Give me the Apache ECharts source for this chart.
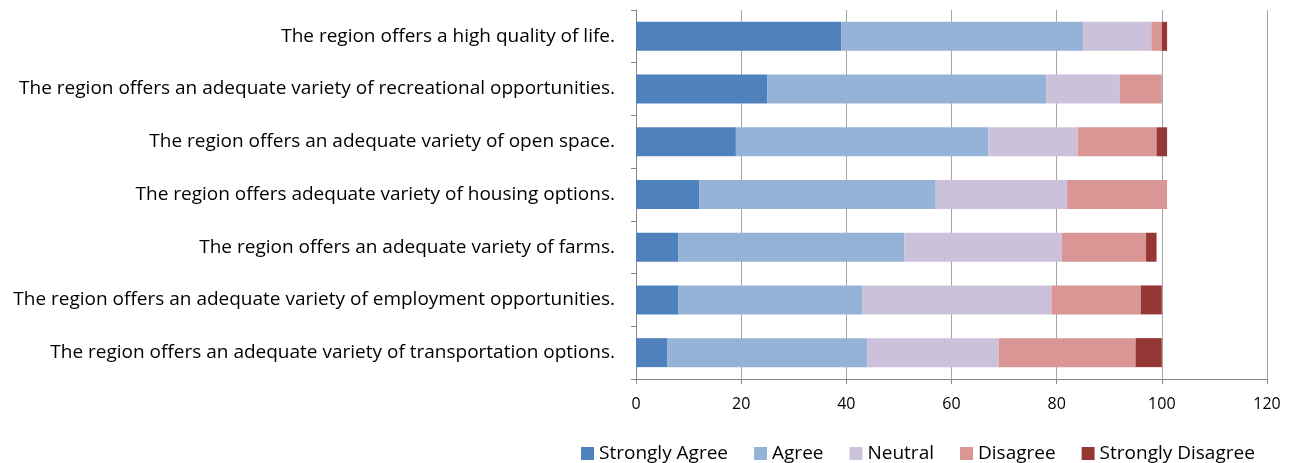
<!DOCTYPE html>
<html><head><meta charset="utf-8">
<script src="https://cdn.jsdelivr.net/npm/echarts@6/dist/echarts.min.js"></script>
<style>html,body{margin:0;padding:0;background:#fff}#c{width:1292px;height:463px}</style>
</head><body><div id="c"></div>
<script>
const categories = [
  "The region offers a high quality of life.",
  "The region offers an adequate variety of recreational opportunities.",
  "The region offers an adequate variety of open space.",
  "The region offers adequate variety of housing options.",
  "The region offers an adequate variety of farms.",
  "The region offers an adequate variety of employment opportunities.",
  "The region offers an adequate variety of transportation options."
];
const stronglyAgree    = [39, 25, 19, 12, 8, 8, 6];
const agree            = [46, 53, 48, 45, 43, 35, 38];
const neutral          = [13, 14, 17, 25, 30, 36, 25];
const disagree         = [2, 8, 15, 19, 16, 17, 26];
const stronglyDisagree = [1, 0, 2, 0, 2, 4, 5];
const seriesNames = ["Strongly Agree", "Agree", "Neutral", "Disagree", "Strongly Disagree"];
const colors = ["#4F81BD", "#95B3D7", "#CCC1DA", "#D99694", "#953735"];
const xTicks = {min: 0, max: 120, interval: 20};

const font = "'Open Sans', 'Noto Sans', sans-serif";
const chart = echarts.init(document.getElementById('c'), null, {renderer: 'canvas'});
const dataSets = [stronglyAgree, agree, neutral, disagree, stronglyDisagree];
chart.setOption({
  animation: false,
  textStyle: {fontFamily: font},
  grid: {left: 636, right: 25, top: 10, bottom: 84, containLabel: false},
  legend: {
    top: 439, left: 576, itemWidth: 13, itemHeight: 13, itemGap: 26,
    icon: 'rect',
    textStyle: {fontSize: 19, color: '#000', fontFamily: font, padding: [0, 0, 0, 0]},
    data: seriesNames
  },
  xAxis: {
    type: 'value', min: xTicks.min, max: xTicks.max, interval: xTicks.interval,
    axisLine: {show: true, lineStyle: {color: '#888'}},
    axisTick: {show: true, length: 5, lineStyle: {color: '#888'}},
    splitLine: {show: true, lineStyle: {color: '#a6a6a6'}},
    axisLabel: {fontSize: 16, color: '#000', margin: 17, fontFamily: font}
  },
  yAxis: {
    type: 'category', inverse: true, data: categories,
    axisLine: {show: true, lineStyle: {color: '#888'}},
    axisTick: {show: true, length: 5, lineStyle: {color: '#888'}},
    axisLabel: {fontSize: 19, color: '#000', margin: 21, fontFamily: font}
  },
  series: seriesNames.map((n, i) => ({
    name: n, type: 'bar', stack: 'total', barWidth: 29,
    itemStyle: {color: colors[i]},
    data: dataSets[i]
  }))
});
</script></body></html>
